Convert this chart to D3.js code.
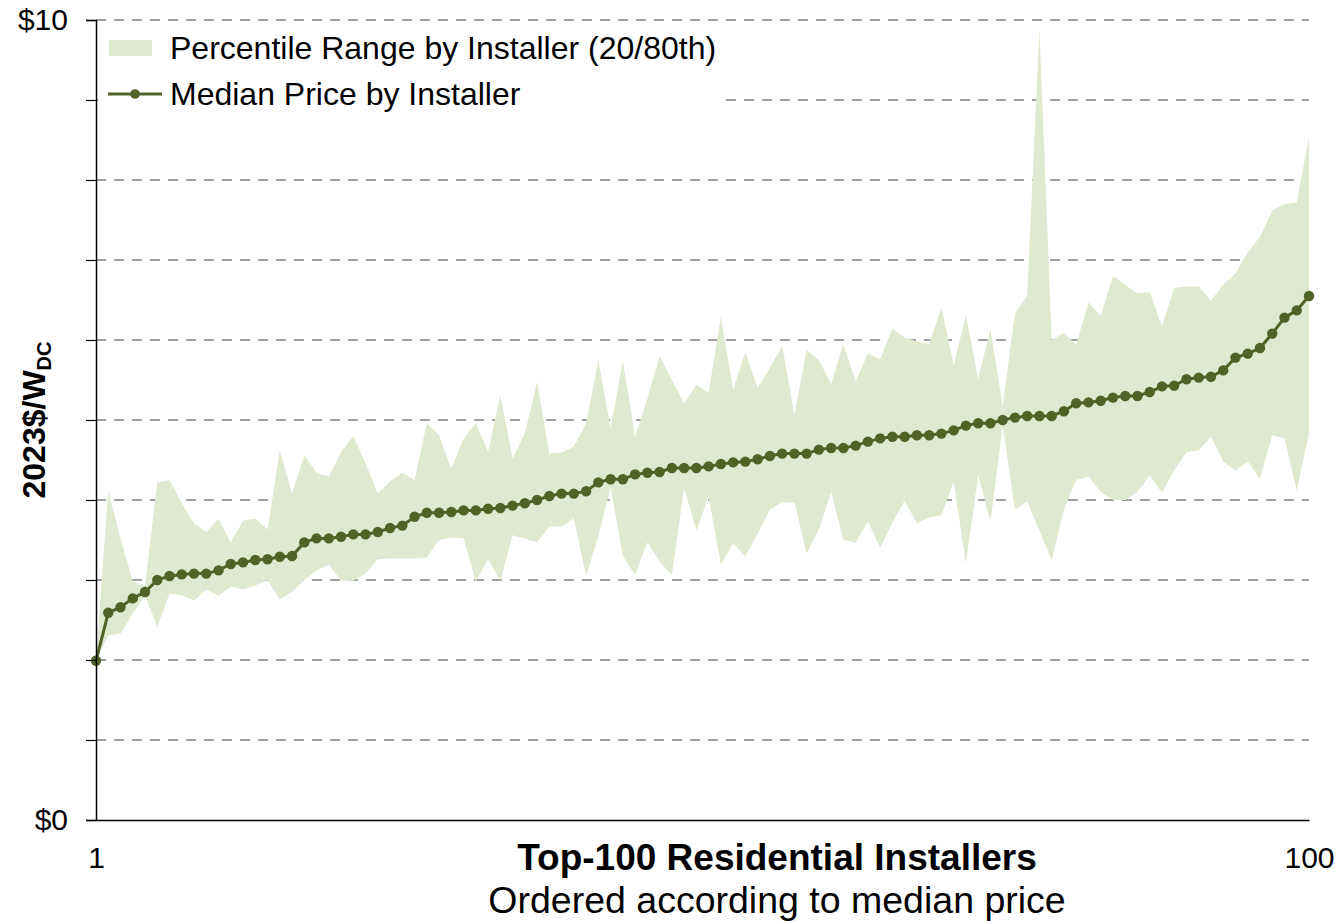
<!DOCTYPE html>
<html>
<head>
<meta charset="utf-8">
<script src="https://cdn.jsdelivr.net/npm/d3@7"></script>
<style>
  html, body { margin: 0; padding: 0; background: #ffffff; }
  svg { display: block; font-family: "Liberation Sans", Arial, sans-serif; }
</style>
</head>
<body>
<svg id="chart" width="1340" height="921"></svg>
<script>
// Installer rank (1 = lowest median price)
const installers = d3.range(1, 101);

// Median installed price by installer, 2023$/W_DC
const median = [
  1.99, 2.59, 2.66, 2.77, 2.85, 3.00, 3.05, 3.07, 3.08, 3.08,
  3.12, 3.20, 3.22, 3.25, 3.26, 3.29, 3.30, 3.47, 3.52, 3.52,
  3.54, 3.57, 3.57, 3.60, 3.65, 3.68, 3.79, 3.84, 3.84, 3.85,
  3.87, 3.87, 3.89, 3.90, 3.93, 3.96, 4.00, 4.05, 4.08, 4.08,
  4.11, 4.22, 4.26, 4.26, 4.32, 4.34, 4.35, 4.40, 4.40, 4.40,
  4.42, 4.45, 4.47, 4.48, 4.51, 4.55, 4.58, 4.58, 4.58, 4.63,
  4.65, 4.65, 4.68, 4.73, 4.77, 4.79, 4.79, 4.81, 4.81, 4.83,
  4.87, 4.93, 4.96, 4.96, 5.00, 5.03, 5.05, 5.05, 5.05, 5.11,
  5.21, 5.22, 5.24, 5.28, 5.30, 5.30, 5.35, 5.42, 5.43, 5.51,
  5.53, 5.54, 5.62, 5.78, 5.83, 5.90, 6.08, 6.28, 6.37, 6.55
];

// 80th percentile price by installer
const p80 = [
  2.00, 4.12, 3.52, 2.98, 2.93, 4.22, 4.25, 3.96, 3.71, 3.60,
  3.76, 3.47, 3.74, 3.77, 3.63, 4.62, 4.08, 4.56, 4.34, 4.29,
  4.60, 4.80, 4.46, 4.08, 4.23, 4.34, 4.25, 4.96, 4.81, 4.39,
  4.77, 4.96, 4.60, 5.31, 4.52, 4.83, 5.48, 4.58, 4.59, 4.67,
  4.96, 5.75, 4.90, 5.73, 4.79, 5.27, 5.80, 5.50, 5.21, 5.44,
  5.34, 6.29, 5.38, 5.85, 5.40, 5.65, 5.93, 5.06, 5.88, 5.75,
  5.45, 5.95, 5.48, 5.83, 5.76, 6.14, 6.03, 5.98, 5.95, 6.40,
  5.69, 6.31, 5.51, 6.14, 5.17, 6.33, 6.56, 9.90, 6.00, 6.09,
  5.94, 6.47, 6.30, 6.80, 6.69, 6.58, 6.60, 6.17, 6.65, 6.67,
  6.67, 6.49, 6.69, 6.83, 7.10, 7.29, 7.62, 7.70, 7.72, 8.54
];

// 20th percentile price by installer
const p20 = [
  2.00, 2.31, 2.33, 2.58, 2.80, 2.42, 2.83, 2.81, 2.74, 2.88,
  2.80, 2.92, 2.88, 2.93, 3.00, 2.76, 2.85, 3.00, 3.12, 3.19,
  2.99, 2.99, 3.08, 3.26, 3.27, 3.27, 3.27, 3.28, 3.50, 3.53,
  3.52, 2.98, 3.26, 2.99, 3.56, 3.52, 3.47, 3.67, 3.67, 3.77,
  3.05, 3.55, 4.16, 3.30, 3.06, 3.47, 3.23, 3.06, 4.15, 3.62,
  4.04, 3.19, 3.46, 3.29, 3.58, 3.88, 3.97, 3.97, 3.33, 3.63,
  4.10, 3.50, 3.47, 3.73, 3.40, 3.72, 3.99, 3.71, 3.78, 3.81,
  4.22, 3.21, 4.31, 3.73, 4.92, 3.88, 3.98, 3.62, 3.25, 3.88,
  4.25, 4.29, 4.10, 4.00, 4.00, 4.10, 4.31, 4.09, 4.37, 4.60,
  4.62, 4.79, 4.48, 4.37, 4.48, 4.27, 4.81, 4.77, 4.12, 4.83
];

// Axis ticks and labels
const yTickValues = d3.range(0, 11);
const yTickLabels = { 0: "$0", 10: "$10" };
const xTickValues = [1, 100];

const legendItems = [
  { key: "range", label: "Percentile Range by Installer (20/80th)" },
  { key: "median", label: "Median Price by Installer" }
];

const COLORS = {
  band: "#dfe9cf",
  line: "#4f6228",
  grid: "#a0a0a0",
  axis: "#000000"
};

const rows = installers.map((n, i) => ({ n, med: median[i], lo: p20[i], hi: p80[i] }));

const svg = d3.select("#chart");
const plot = { left: 96, right: 1309, top: 20, bottom: 820 };

const x = d3.scaleLinear().domain([1, 100]).range([plot.left, plot.right]);
const y = d3.scaleLinear().domain([0, 10]).range([plot.bottom, plot.top]);

// Dashed horizontal gridlines
svg.append("g")
  .selectAll("line")
  .data(yTickValues.filter(v => v > 0))
  .join("line")
  .attr("x1", plot.left).attr("x2", plot.right)
  .attr("y1", d => y(d)).attr("y2", d => y(d))
  .attr("stroke", COLORS.grid)
  .attr("stroke-width", 2)
  .attr("stroke-dasharray", "10,8");

// 20th–80th percentile band
svg.append("path")
  .datum(rows)
  .attr("fill", COLORS.band)
  .attr("d", d3.area()
    .x(d => x(d.n))
    .y0(d => y(d.lo))
    .y1(d => y(d.hi)));

// Median line with markers
svg.append("path")
  .datum(rows)
  .attr("fill", "none")
  .attr("stroke", COLORS.line)
  .attr("stroke-width", 3)
  .attr("d", d3.line().x(d => x(d.n)).y(d => y(d.med)));

svg.append("g")
  .selectAll("circle")
  .data(rows)
  .join("circle")
  .attr("cx", d => x(d.n))
  .attr("cy", d => y(d.med))
  .attr("r", 5.2)
  .attr("fill", COLORS.line);

// Legend on a white panel
const legend = svg.append("g");
legend.append("rect")
  .attr("x", 98).attr("y", 26).attr("width", 624).attr("height", 90)
  .attr("fill", "#ffffff");

const legendRows = legend.selectAll("g.item")
  .data(legendItems)
  .join("g")
  .attr("class", "item")
  .attr("transform", (d, i) => `translate(0, ${48 + i * 46})`);

legendRows.filter(d => d.key === "range")
  .append("rect")
  .attr("x", 109).attr("y", -8).attr("width", 43).attr("height", 16)
  .attr("fill", COLORS.band);

const medianKey = legendRows.filter(d => d.key === "median");
medianKey.append("line")
  .attr("x1", 108).attr("x2", 162).attr("y1", 0).attr("y2", 0)
  .attr("stroke", COLORS.line).attr("stroke-width", 3);
medianKey.append("circle")
  .attr("cx", 135).attr("cy", 0).attr("r", 4.8)
  .attr("fill", COLORS.line);

legendRows.append("text")
  .attr("x", 170).attr("y", 0).attr("dy", "0.35em")
  .attr("font-size", 32)
  .attr("fill", "#000")
  .text(d => d.label);

// Y axis
const yAxis = d3.axisLeft(y)
  .tickValues(yTickValues)
  .tickSize(10)
  .tickPadding(18)
  .tickFormat(d => yTickLabels[d] || "");
const gy = svg.append("g")
  .attr("transform", `translate(${plot.left},0)`)
  .call(yAxis);
gy.select(".domain").attr("stroke", COLORS.axis).attr("stroke-width", 1.5);
gy.selectAll(".tick line").attr("stroke", "#000").attr("stroke-width", 1.2);
gy.selectAll(".tick text")
  .attr("font-size", 30)
  .attr("font-family", "Liberation Sans, Arial, sans-serif")
  .attr("fill", "#000");

// X axis
const xAxis = d3.axisBottom(x)
  .tickValues(xTickValues)
  .tickSize(0)
  .tickPadding(27)
  .tickFormat(d3.format("d"));
const gx = svg.append("g")
  .attr("transform", `translate(0,${plot.bottom})`)
  .call(xAxis);
gx.select(".domain").attr("stroke", COLORS.axis).attr("stroke-width", 1.5);
gx.selectAll(".tick text")
  .attr("font-size", 30)
  .attr("font-family", "Liberation Sans, Arial, sans-serif")
  .attr("fill", "#000");

// Axis titles
svg.append("text")
  .attr("x", 777).attr("y", 870)
  .attr("text-anchor", "middle")
  .attr("font-size", 37)
  .attr("font-weight", "bold")
  .text("Top-100 Residential Installers");

svg.append("text")
  .attr("x", 777).attr("y", 913)
  .attr("text-anchor", "middle")
  .attr("font-size", 37.5)
  .text("Ordered according to median price");

const yTitle = svg.append("text")
  .attr("transform", "translate(45,420) rotate(-90)")
  .attr("text-anchor", "middle")
  .attr("font-size", 32)
  .attr("font-weight", "bold");
yTitle.append("tspan").text("2023$/W");
yTitle.append("tspan").attr("font-size", 20).attr("dy", 6).text("DC");
</script>
</body>
</html>
